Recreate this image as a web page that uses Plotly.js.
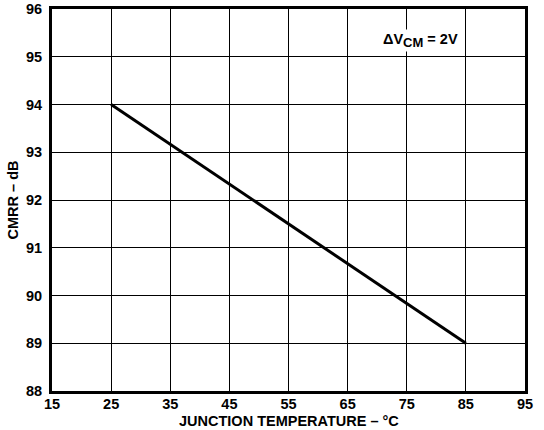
<!DOCTYPE html>
<html><head><meta charset="utf-8">
<script src="https://cdn.plot.ly/plotly-3.0.1.min.js"></script>
<style>body{margin:0;padding:0;background:#fff}#c{width:544px;height:430px}</style>
</head><body><div id="c"></div>
<script>
const temperature = [25, 85];
const cmrr = [94, 89];
const xTicks = [15, 25, 35, 45, 55, 65, 75, 85, 95];
const yTicks = [88, 89, 90, 91, 92, 93, 94, 95, 96];

const font = {family: 'Liberation Sans, Arial, sans-serif', size: 14.5, color: '#000', weight: 'bold'};
Plotly.newPlot('c', [{
  x: temperature, y: cmrr, mode: 'lines', type: 'scatter',
  line: {color: '#000', width: 3}, hoverinfo: 'skip'
}], {
  width: 544, height: 430,
  margin: {l: 52, r: 19, t: 9, b: 39},
  paper_bgcolor: '#fff', plot_bgcolor: '#fff',
  showlegend: false,
  font: font,
  xaxis: {
    range: [15, 95], tickvals: xTicks, ticktext: xTicks.map(String),
    showgrid: true, gridcolor: '#000', gridwidth: 1,
    showline: true, linecolor: '#000', linewidth: 3, mirror: true,
    zeroline: false, ticks: '', tickfont: font, ticklabelstandoff: -2
  },
  yaxis: {
    range: [88, 96], tickvals: yTicks, ticktext: yTicks.map(String),
    showgrid: true, gridcolor: '#000', gridwidth: 1,
    showline: true, linecolor: '#000', linewidth: 3, mirror: true,
    zeroline: false, ticks: '', tickfont: font, ticklabelstandoff: 4,
    title: {text: 'CMRR – dB', font: font, standoff: 4}
  },
  annotations: [{
    x: 77.3, y: 95.35, xref: 'x', yref: 'y', showarrow: false,
    text: 'ΔV<sub><span style="font-size:13px">CM</span></sub> = 2V', font: font, bgcolor: '#fff'
  }, {
    x: 0.5, y: 0, xref: 'paper', yref: 'paper', xanchor: 'center', yanchor: 'top',
    yshift: -20, showarrow: false, text: 'JUNCTION TEMPERATURE – °C', font: font
  }]
}, {staticPlot: true});
</script></body></html>
